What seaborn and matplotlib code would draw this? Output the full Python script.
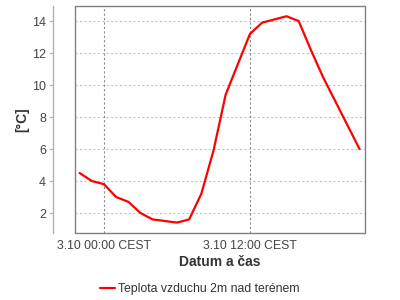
import matplotlib
matplotlib.use("Agg")
import matplotlib.pyplot as plt
from matplotlib.patches import Rectangle
import seaborn as sns
import pandas as pd

# ---- data ----
start_time = "2023-10-02 22:00"
temperature = [4.5, 4.0, 3.8, 3.0, 2.7, 2.0, 1.6, 1.5, 1.4, 1.6, 3.2, 5.9,
               9.4, 11.3, 13.2, 13.9, 14.1, 14.3, 14.0, 12.2, 10.5, 9.0, 7.5, 6.0]
series_name = "Teplota vzduchu 2m nad terénem"
x_tick_times = ["2023-10-03 00:00", "2023-10-03 12:00"]
x_tick_labels = ["3.10 00:00 CEST", "3.10 12:00 CEST"]
y_ticks = [2, 4, 6, 8, 10, 12, 14]
x_label = "Datum a čas"
y_label = "[°C]"

times = pd.date_range(start_time, periods=len(temperature), freq="h")
df = pd.DataFrame({"time": times, "temp": temperature, "series": series_name})

sns.set_style("white")
plt.rcParams['font.family'] = ['Liberation Sans', 'DejaVu Sans']

fig = plt.figure(figsize=(4, 3), dpi=100)
ax = fig.add_axes([75/400, 1-233/300, 290/400, 227/300])

sns.lineplot(data=df, x="time", y="temp", hue="series", palette=["#ff0000"],
             linewidth=1.6, ax=ax, legend=True)

t0 = pd.Timestamp(x_tick_times[0])
ax.set_xlim(t0 - pd.Timedelta(hours=2.38), t0 + pd.Timedelta(hours=21.45))
ax.set_ylim(0.75, 14.94)

ax.set_xticks(pd.to_datetime(x_tick_times))
ax.set_xticklabels(x_tick_labels)
ax.set_yticks(y_ticks)

# grid
for y in y_ticks:
    ax.axhline(y, color="#c4c4c4", linewidth=0.8, linestyle=(0, (2, 2)), zorder=0)
for t in pd.to_datetime(x_tick_times):
    ax.axvline(t, color="#8a8a8a", linewidth=0.8, linestyle=(0, (2, 2)), zorder=0)

# spines / frame
for s in ["top", "right", "bottom"]:
    ax.spines[s].set_visible(False)
ax.spines["left"].set_position(("outward", 22 * 72 / 100))
ax.spines["left"].set_color("#b0b0b0")
ax.spines["left"].set_linewidth(1.0)
ax.add_patch(Rectangle((0, 0), 1, 1, transform=ax.transAxes, fill=False,
                       edgecolor="#808080", linewidth=1.0, clip_on=False, zorder=3))

ax.tick_params(axis="y", which="both", left=True, length=3, width=0.8,
               color="#b0b0b0", labelsize=9, labelcolor="#444444", pad=2)
ax.tick_params(axis="x", which="both", bottom=False, labelsize=8.8,
               labelcolor="#444444", pad=1.5)

ax.set_xlabel(x_label, fontsize=10, fontweight="bold", color="#333333")
ax.set_ylabel(y_label, fontsize=10, fontweight="bold", color="#333333")
ax.xaxis.set_label_coords(0.5, -(262 - 233) / 227)
ax.xaxis.label.set_va("center")
ax.yaxis.set_label_coords(-(75 - 22) / 290, 0.5)
ax.yaxis.label.set_va("center")

leg = ax.legend(loc="center", bbox_to_anchor=(0.5, 11/300), bbox_transform=fig.transFigure,
                frameon=False, fontsize=8.8, handlelength=1.2, handletextpad=0.3)
for txt in leg.get_texts():
    txt.set_color("#333333")

fig.savefig("out.png", dpi=100)
